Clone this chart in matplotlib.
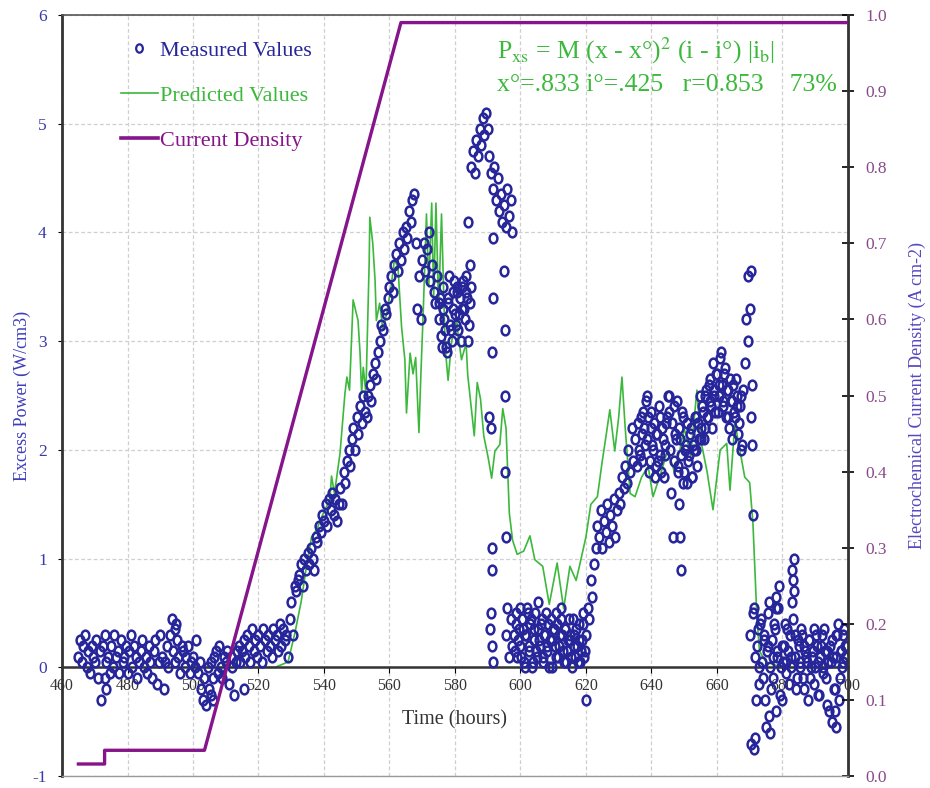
import matplotlib.pyplot as plt
import numpy as np
from matplotlib.lines import Line2D
from matplotlib.path import Path

plt.rcParams['font.family'] = ['Liberation Serif', 'DejaVu Serif']
plt.rcParams['mathtext.fontset'] = 'stix'
plt.rcParams['axes.unicode_minus'] = False

# measured excess power (W/cm3), one reading every half hour from 465 h
meas_v = [
    0.1, 0.25, 0.05, 0.2, 0.3, 0.0, 0.15, -0.05, 0.2, 0.1,        # 465
    0.05, 0.25, -0.1, 0.15, -0.3, 0.2, 0.3, 0.05, 0.1, -0.05,     # 470
    0.2, 0.0, 0.3, 0.1, 0.15, -0.05, 0.25, 0.05, 0.1, 0.2,        # 475
    -0.05, 0.15, 0.3, 0.0, 0.2, 0.1, -0.1, 0.05, 0.15, 0.25,      # 480
    0.0, 0.1, -0.05, 0.2, 0.05, -0.1, 0.15, 0.25, -0.15, 0.05,    # 485
    0.3, 0.1, -0.2, 0.05, 0.2, 0.0, 0.3, 0.45, 0.15, 0.05,        # 490
    0.25, 0.1, -0.05, 0.2, 0.15, 0.0, 0.1, 0.2, -0.05, 0.05,      # 495
    0.1, 0.0, 0.25, -0.05, 0.05, -0.2, -0.3, -0.1, -0.35, 0.0,    # 500
    -0.2, 0.05, -0.1, 0.1, 0.15, -0.05, 0.2, 0.0, -0.1, 0.1,      # 505
    0.05, 0.15, -0.15, 0.1, 0.0, -0.25, 0.05, 0.15, 0.2, 0.05,    # 510
    0.15, 0.25, 0.1, 0.3, 0.2, 0.05, 0.35, 0.15, 0.25, 0.1,       # 515
    0.3, 0.2, 0.05, 0.35, 0.25, 0.15, 0.3, 0.2, 0.1, 0.35,        # 520
    0.25, 0.3, 0.15, 0.4, 0.2, 0.35, 0.25, 0.3, 0.1, 0.45,        # 525
    0.6, 0.3, 0.75, 0.7, 0.8, 0.85, 0.95, 0.75, 1.0, 0.9,         # 530
    1.05, 0.95, 1.1, 1.0, 0.9, 1.2, 1.15, 1.3, 1.25, 1.4,         # 535
    1.35, 1.5, 1.3, 1.55, 1.45, 1.6, 1.4, 1.55, 1.35, 1.5,        # 540
    1.65, 1.5, 1.8, 1.7, 1.9, 2.0, 1.85, 2.1, 2.2, 2.0,           # 545
    2.3, 2.15, 2.4, 2.25, 2.5, 2.35, 2.3, 2.5, 2.6, 2.45,         # 550
    2.7, 2.8, 2.65, 2.9, 3.0, 3.15, 3.1, 3.3, 3.25, 3.4,          # 555
    3.5, 3.6, 3.45, 3.7, 3.8, 3.65, 3.9, 3.75, 4.0, 3.85,         # 560
    4.05, 3.95, 4.2, 4.1, 4.3, 4.35, 3.9, 3.3, 3.6, 3.2,          # 565
    3.75, 3.9, 3.65, 3.85, 4.0, 3.55, 3.7, 3.45, 3.35, 3.6,       # 570
    3.2, 3.4, 2.95, 3.3, 3.1, 2.9, 3.35, 3.15, 3.0, 3.45,         # 575
    3.25, 3.5, 3.1, 3.4, 3.3, 3.55, 3.2, 3.45, 3.0, 3.35,         # 580
    4.6, 4.75, 4.55, 4.85, 4.7, 4.95, 4.8, 5.05, 4.9, 5.1,        # 585
    4.95, 4.7, 4.55, 4.4, 4.6, 4.3, 4.5, 4.2, 4.35, 4.1,          # 590
    4.25, 4.05, 4.4, 4.15, 4.3, 4.0, 0.3, 0.5, 0.1, 0.35,         # 595
    0.2, 0.45, 0.05, 0.3, 0.55, 0.15, 0.4, 0.0, 0.25, 0.5,        # 600
    0.1, 0.35, 0.2, 0.45, 0.05, 0.3, 0.15, 0.4, 0.25, 0.0,        # 605
    0.35, 0.2, 0.5, 0.1, 0.3, 0.45, 0.15, 0.35, 0.05, 0.25,       # 610
    0.3, 0.1, 0.45, 0.2, 0.35, 0.05, 0.25, 0.15, 0.4, 0.1,        # 615
    0.3, 0.55, 0.45, 0.8, 0.65, 0.95, 1.1, 1.3, 1.2, 1.45,        # 620
    1.1, 1.35, 1.25, 1.5, 1.15, 1.4, 1.3, 1.55, 1.2, 1.45,        # 625
    1.6, 1.5, 1.75, 1.65, 1.85, 1.7, 2.0, 1.8, 2.2, 1.9,          # 630
    2.1, 1.85, 2.25, 1.95, 2.15, 2.35, 2.05, 2.5, 2.3, 1.9,       # 635
    2.2, 2.0, 1.75, 2.15, 1.9, 2.3, 1.8, 2.1, 1.95, 2.25,         # 640
    2.5, 2.35, 1.6, 1.2, 2.4, 2.1, 1.85, 2.2, 1.95, 2.3,          # 645
    1.8, 2.05, 1.7, 1.95, 2.2, 1.75, 2.0, 2.3, 1.85, 2.1,         # 650
    2.2, 2.4, 2.1, 2.5, 2.3, 2.6, 2.45, 2.2, 2.55, 2.35,          # 655
    2.7, 2.5, 2.85, 2.6, 2.4, 2.75, 2.55, 2.3, 2.65, 2.45,        # 660
    2.6, 2.3, 2.5, 2.15, 2.4, 2.0, 2.55, 2.8, 3.2, 3.6,           # 665
    0.3, -0.7, 0.5, 0.1, -0.3, 0.35, 0.0, 0.45, -0.1, 0.25,       # 670
    -0.55, 0.2, 0.6, -0.2, 0.1, 0.4, -0.4, 0.15, 0.75, 0.0,       # 675
    -0.3, 0.2, 0.05, 0.35, -0.15, 0.1, 0.6, 1.0, 0.3, -0.1,       # 680
    0.2, 0.0, 0.3, -0.2, 0.15, 0.05, 0.25, -0.1, 0.1, 0.35,       # 685
    0.0, 0.2, -0.25, 0.1, 0.3, -0.05, 0.15, -0.35, 0.05, 0.2,     # 690
    -0.5, 0.1, -0.2, 0.3, 0.4, -0.1, 0.15, 0.05, 0.2, 0.1,        # 695
]
meas_t = 465 + 0.5 * np.arange(len(meas_v))

# second set of readings in the dense stretches (offset by a quarter hour)
dense_575 = [3.35, 3.05, 3.5, 3.2, 2.95, 3.4, 3.6, 3.1, 3.3, 3.55,
             3.15, 3.45, 3.25, 3.0, 3.5, 3.3, 3.6, 3.4, 3.15, 3.5]
dense_598 = [0.15, 0.4, 0.25, 0.55, 0.1, 0.35, 0.0, 0.3, 0.5, 0.2,
             0.45, 0.05, 0.35, 0.15, 0.6, 0.25, 0.4, 0.1, 0.3, 0.5,
             0.2, 0.0, 0.45, 0.25, 0.35, 0.1, 0.4, 0.2, 0.55, 0.3,
             0.05, 0.35, 0.15, 0.45, 0.25, 0.0, 0.3, 0.1, 0.2, 0.4,
             0.05, 0.25, 0.5, 0.15]
dense_636 = [2.0, 2.3, 1.9, 2.2, 2.45, 2.1, 1.8, 2.35, 2.05, 2.25,
             1.85, 2.15, 2.4, 1.95, 2.2, 1.75, 2.05, 2.3, 2.5, 2.0,
             2.25, 1.9, 2.15, 2.45, 1.8, 2.1, 2.35, 1.7, 2.0, 2.25,
             1.9, 2.15, 1.75, 2.05, 2.3, 2.0, 2.25, 2.5, 2.1, 2.35,
             2.2, 2.55, 2.3, 2.65, 2.4, 2.8, 2.5, 2.7, 2.35, 2.6,
             2.9, 2.45, 2.7, 2.3, 2.55, 2.2, 2.45, 2.1, 2.35, 2.65,
             2.4, 2.25, 2.5, 2.05]
dense_672 = [0.2, -0.15, 0.4, 0.05, 0.3, -0.3, 0.15, 0.5, 0.0, 0.25,
             -0.1, 0.35, 0.1, 0.55, -0.25, 0.2, 0.05, 0.4, -0.05, 0.15,
             0.3, 0.0, 0.45, 0.1, -0.2, 0.25, 0.05, 0.35, -0.1, 0.2,
             0.1, -0.3, 0.25, 0.0, 0.15, -0.15, 0.3, 0.05, -0.25, 0.2,
             0.0, 0.35, -0.1, 0.15, -0.4, 0.05, 0.25, -0.2, 0.1, 0.3,
             -0.3, 0.15, 0.0, 0.35, 0.1, 0.2]
dense_starts = [575.25, 598.25, 636.25, 672.25]

# scattered measured points off the main trace
extra_t = [473.2, 473.5, 494.5, 494.8, 505.5, 506, 515.5, 584, 584.5,
           590.5, 591, 591.5, 591.7, 591.2, 591.2, 591.4, 591, 590.8, 591.2, 591.5,
           595, 595.2, 595.4, 595.3, 595.5, 596, 595.5, 596.5, 597, 597.5,
           620, 648.5, 648.7, 648.9,
           669.5, 670, 670.3, 670.6, 670.5, 670.8, 671, 671.3, 671.5, 671.2,
           676, 676.3, 678, 678.2, 683, 683.2, 683.4, 696, 696.3, 698.5]
extra_v = [-0.1, -0.2, 0.35, 0.4, -0.25, -0.3, -0.2, 4.1, 3.7,
           2.3, 2.2, 3.95, 3.4, 2.9, 1.1, 0.9, 0.5, 0.35, 0.2, 0.05,
           3.65, 3.1, 2.5, 1.8, 1.2, 0.55, 0.3, 0.1, 0.45, 0.2,
           -0.3, 1.5, 1.2, 0.9,
           3.0, 3.3, 3.65, 2.6, 2.3, 2.05, 1.4, 0.55, -0.65, -0.75,
           -0.45, -0.6, 0.55, 0.65, 0.9, 0.8, 0.7, -0.4, -0.55, 0.3]

# predicted excess power
pred_t = [505, 515, 525, 529, 531, 533, 534.5, 536.2, 537.8, 539.8,
          541.8, 542.3, 543.2, 544.9, 546.4, 547, 547.8, 548.9, 550.4, 551,
          551.5, 552, 552.8, 553.8, 554, 554.9, 555.6, 556, 557, 558,
          559.1, 560.5, 561.5, 562.6, 563.7, 564.7, 565.2, 566.3, 567.2, 568,
          569, 569.6, 570.3, 571.3, 572, 572.9, 573.5, 574.2, 575, 575.9,
          577, 577.9, 579, 580.5, 581, 582, 583.4, 583.9, 584.9, 585.9,
          586.8, 587.8, 588.8, 590.2, 591.2, 592.2, 593.7, 594.6, 595.6, 596.6,
          597.6, 599, 601, 602.9, 604.4, 606.8, 608.8, 611.2, 613.2, 615.1,
          617, 618, 620, 621.5, 623.5, 625, 626, 627.3, 628.8, 630,
          631, 632, 633.5, 635, 637, 639, 640.5, 643, 645, 647,
          648.7, 650, 652, 653.9, 655, 657, 658.8, 661, 663, 664,
          665.5, 667, 668.5, 670, 671, 672.2, 673, 675, 680, 690,
          700]
pred_v = [0, 0, 0, 0.05, 0.3, 0.6, 0.9, 1.2, 1.27, 1.42,
          1.54, 1.76, 1.6, 1.97, 2.52, 2.67, 2.55, 3.38, 3.19, 2.9,
          2.52, 2.76, 2.52, 3.72, 4.14, 3.9, 3.56, 3.19, 3.35, 3.1,
          3.25, 3.5, 3.75, 3.68, 3.13, 2.83, 2.34, 2.89, 2.7, 2.85,
          2.16, 2.7, 3.26, 4.17, 3.5, 4.27, 3.4, 4.27, 3.3, 4.17,
          2.95, 2.64, 3.0, 3.2, 3.05, 2.83, 2.98, 2.69, 2.41, 2.13,
          2.62, 2.47, 2.13, 1.92, 1.74, 1.99, 2.05, 2.38, 2.2, 1.42,
          1.17, 1.04, 1.07, 1.21, 0.99, 0.93, 0.58, 0.96, 0.54, 0.93,
          0.8, 0.93, 1.2, 1.5, 1.57, 1.9, 2.1, 2.37, 1.99, 2.3,
          2.67, 2.2, 1.6, 1.57, 1.75, 1.85, 1.57, 1.8, 2.0, 1.8,
          2.0, 2.2, 1.95, 2.55, 2.1, 1.8, 1.45, 2.0, 2.06, 1.63,
          2.25, 2.0, 1.75, 1.7, 1.33, 0.47, 0.15, 0.05, 0.0, 0.0,
          0.0]

# electrochemical current density (A cm-2)
cd_t = [465, 473, 473, 503.5, 563.5, 700]
cd_v = [0.016, 0.016, 0.034, 0.034, 0.99, 0.99]

x_ticks = list(range(460, 701, 20))
y_ticks = list(range(-1, 7))
y2_ticks = [i / 10 for i in range(11)]

navy = '#26269a'
green = '#3cb83c'
purple = '#86148a'

# oval marker, a bit taller than wide
circ = Path.unit_circle()
oval = Path(circ.vertices * [0.8, 1.0], circ.codes)
mstyle = dict(ls='none', marker=oval, ms=7, mfc='none', mec=navy, mew=1.8, zorder=3)

fig = plt.figure(figsize=(9.3, 7.88), dpi=100)
ax = fig.add_axes([0.0667, 0.015, 0.845, 0.966])
ax2 = ax.twinx()

ax.plot(pred_t, pred_v, color=green, lw=1.2, zorder=2)
ax.plot(meas_t, meas_v, **mstyle)
for start, vals in zip(dense_starts, [dense_575, dense_598, dense_636, dense_672]):
    ax.plot(start + 0.5 * np.arange(len(vals)), vals, **mstyle)
ax.plot(extra_t, extra_v, **mstyle)
ax2.plot(cd_t, cd_v, color=purple, lw=2.4, zorder=4)

ax.set_xlim(460, 700)
ax.set_ylim(-1, 6)
ax2.set_ylim(0, 1.0)
ax.set_xticks(x_ticks)
ax.set_yticks(y_ticks)
ax2.set_yticks(y2_ticks)
ax2.set_yticklabels([f'{v:.1f}' for v in y2_ticks])

ax.grid(True, color='#cfcfcf', linestyle=(0, (3, 2)), linewidth=0.9)
ax.set_axisbelow(True)

ax.spines['bottom'].set_position(('data', 0))
ax.spines['bottom'].set_linewidth(1.8)
ax.spines['bottom'].set_color('#333333')
ax.spines['left'].set_linewidth(2)
ax.spines['left'].set_color('#333333')
ax.spines['top'].set_linewidth(1.2)
ax.spines['top'].set_color('#555555')
ax.spines['right'].set_visible(False)
ax2.spines['left'].set_visible(False)
ax2.spines['top'].set_visible(False)
ax2.spines['right'].set_linewidth(2)
ax2.spines['right'].set_color('#333333')
ax2.spines['bottom'].set_linewidth(1)
ax2.spines['bottom'].set_color('#999999')

ax.tick_params(axis='x', direction='out', length=4, labelsize=11.5, labelcolor='#333333')
ax.tick_params(axis='y', direction='out', length=3, labelsize=12.5, labelcolor='#3a3aa8', pad=8)
ax2.tick_params(axis='y', direction='inout', length=9, width=1.2, labelsize=12.5, labelcolor='#8a4a8a', pad=8)

ax.set_xlabel('Time (hours)', fontsize=14.5, color='#333333')
ax.xaxis.set_label_coords(0.5, 0.086)
ax.set_ylabel('Excess Power (W/cm3)', fontsize=13, color='#3d3dbb')
ax.yaxis.set_label_coords(-0.04, 0.5)
ax2.set_ylabel('Electrochemical Current Density (A cm-2)', fontsize=13, color='#5548c0')
ax2.yaxis.set_label_coords(1.077, 0.5)

h1 = Line2D([], [], ls='none', marker=oval, ms=6, mfc='none', mec=navy, mew=1.6)
h2 = Line2D([], [], color=green, lw=1.2)
h3 = Line2D([], [], color=purple, lw=2.6)
leg = ax.legend([h1, h2, h3], ['Measured Values', 'Predicted Values', 'Current Density'],
                loc='upper left', bbox_to_anchor=(0.075, 0.967), frameon=False,
                borderpad=0, borderaxespad=0,
                fontsize=16, labelspacing=1.1, handlelength=1.65, handletextpad=0.1)
for txt, c in zip(leg.get_texts(), [navy, green, purple]):
    txt.set_color(c)

ax.text(0.553, 0.953, r'P$_{\rm xs}$ = M (x - x°)$^{2}$ (i - i°) |i$_{\rm b}$|',
        transform=ax.transAxes, ha='left', va='center', fontsize=18.5, color=green)
ax.text(0.553, 0.908, 'x°=.833 i°=.425   r=0.853    73%',
        transform=ax.transAxes, ha='left', va='center', fontsize=18.5, color=green)

fig.savefig('out.png', dpi=100)
